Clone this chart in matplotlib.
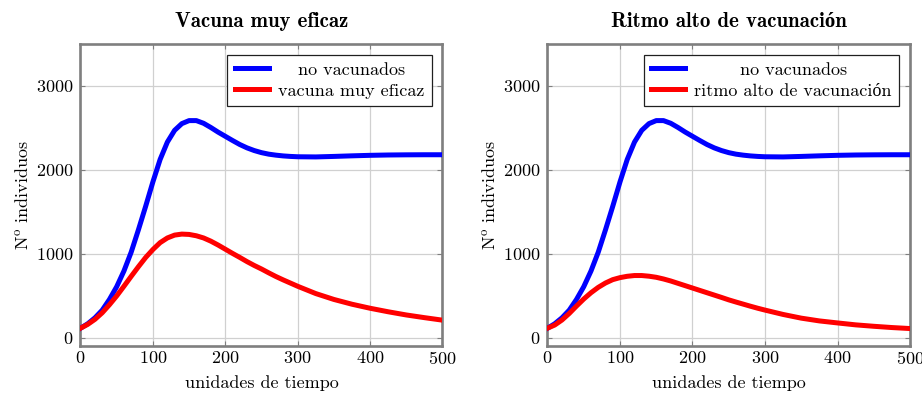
import matplotlib
import matplotlib.pyplot as plt

plt.rcParams['font.family'] = ['cmr10', 'Liberation Serif']
plt.rcParams['mathtext.fontset'] = 'cm'
plt.rcParams['axes.formatter.use_mathtext'] = True
plt.rcParams['font.size'] = 13

# tiempo
t = [0, 10, 20, 30, 40, 50, 60, 70, 80, 90, 100, 110, 120, 130, 140, 150, 160,
     170, 180, 190, 200, 210, 220, 230, 240, 250, 260, 270, 280, 290, 300,
     325, 350, 375, 400, 425, 450, 475, 500]

# no vacunados (igual en los dos paneles)
no_vac = [112, 165, 236, 327, 455, 607, 794, 1018, 1285, 1565,
          1856, 2124, 2331, 2471, 2551, 2587, 2587, 2555, 2505, 2450,
          2400, 2350, 2302, 2262, 2230, 2205, 2187, 2175, 2166, 2160,
          2156, 2154, 2160, 2167, 2173, 2177, 2179, 2180, 2180]

# vacuna muy eficaz
vac_eficaz = [112, 158, 218, 296, 392, 497, 612, 730, 845, 955,
              1050, 1132, 1188, 1222, 1234, 1230, 1214, 1188, 1150, 1104,
              1054, 1004, 956, 906, 860, 818, 772, 728, 688, 650,
              612, 525, 455, 398, 350, 308, 270, 238, 208]

# ritmo alto de vacunacion
ritmo_alto = [112, 150, 210, 288, 376, 460, 535, 599, 651, 691,
              715, 731, 740, 740, 732, 719, 699, 675, 647, 619,
              591, 563, 535, 507, 479, 450, 424, 399, 374, 350,
              328, 276, 232, 199, 175, 152, 135, 120, 108]

titles = ['Vacuna muy eficaz', 'Ritmo alto de vacunación']
red_labels = ['vacuna muy eficaz', 'ritmo alto de vacunación']
red_series = [vac_eficaz, ritmo_alto]

xticks = [0, 100, 200, 300, 400, 500]
yticks = [0, 1000, 2000, 3000]

fig = plt.figure(figsize=(9.22, 3.93), dpi=100)
ax1 = fig.add_axes([0.0873, 0.1196, 0.3926, 0.7684])
ax2 = fig.add_axes([0.5938, 0.1196, 0.3932, 0.7684])

legends = []
for ax, title, lab, serie in zip([ax1, ax2], titles, red_labels, red_series):
    ax.plot(t, no_vac, color='#0000ff', lw=3.6, label='no vacunados',
            solid_joinstyle='round', zorder=3)
    ax.plot(t, serie, color='#ff0000', lw=3.6, label=lab,
            solid_joinstyle='round', zorder=4)
    ax.set_xlim(0, 500)
    ax.set_ylim(-100, 3500)
    ax.set_xticks(xticks)
    ax.set_yticks(yticks)
    ax.grid(True, color='#d0d0d0', lw=0.9)
    ax.set_axisbelow(True)
    for sp in ax.spines.values():
        sp.set_color('#7f7f7f')
        sp.set_linewidth(1.9)
    ax.tick_params(direction='in', length=3.5, width=0.8, color='#7f7f7f',
                   top=True, right=True, labelsize=13)
    ax.tick_params(axis='x', pad=3)
    ax.tick_params(axis='y', pad=5)
    ax.set_title(title, fontsize=15, pad=12, fontweight='bold',
                 fontfamily=['cmb10', 'Liberation Serif'])
    ax.set_xlabel('unidades de tiempo', fontsize=13, labelpad=6)
    ax.set_ylabel(r'N$^{\mathrm{o}}$ individuos', fontsize=13, labelpad=4)
    leg = ax.legend(loc='upper right', fontsize=13, frameon=True, fancybox=False,
                    framealpha=1, edgecolor='#202020', borderpad=0.4,
                    labelspacing=0.3, handlelength=1.9, handletextpad=0.5,
                    borderaxespad=0.6)
    leg.get_frame().set_linewidth(0.9)
    legends.append(leg)

# centrar los textos de la leyenda como en pgfplots
fig.canvas.draw()
renderer = fig.canvas.get_renderer()
for leg in legends:
    texts = leg.get_texts()
    widths = [tx.get_window_extent(renderer).width for tx in texts]
    wmax = max(widths)
    for tx, w in zip(texts, widths):
        tx.set_x((wmax - w) / 2)

fig.savefig('out.png', dpi=100)
